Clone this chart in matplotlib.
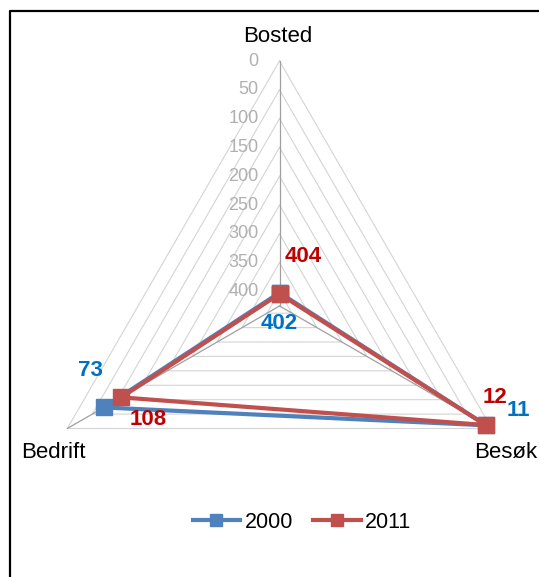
import numpy as np
import matplotlib
matplotlib.use("Agg")
import matplotlib.pyplot as plt
from matplotlib.lines import Line2D

plt.rcParams['font.family'] = ['Liberation Sans', 'DejaVu Sans']

categories = ["Bosted", "Besøk", "Bedrift"]
series_names = ["2000", "2011"]
values_2000 = [402, 11, 73]
values_2011 = [404, 12, 108]
tick_values = [0, 50, 100, 150, 200, 250, 300, 350, 400]
RMAX = 425

W, H = 539, 577
fig = plt.figure(figsize=(W / 100, H / 100), dpi=100)

cx, cy, R = 279.5, 306.0, 245.0
ax = fig.add_axes([(cx - R) / W, (H - cy - R) / H, 2 * R / W, 2 * R / H],
                  projection='polar')
ax.set_theta_zero_location('N')
ax.set_theta_direction(-1)
ax.set_ylim(RMAX, 0)
ax.grid(False)
ax.set_xticks([])
ax.set_yticks([])
ax.spines['polar'].set_visible(False)
ax.patch.set_visible(False)

angles = np.deg2rad([0, 120, 240])
closed = np.append(angles, angles[0])

# triangular gridlines
for t in tick_values:
    ax.plot(closed, [t] * 4, color='#d4d4d4', lw=0.8, zorder=1, clip_on=False)
# spokes
for a in angles:
    ax.plot([a, a], [RMAX, 0], color='#a0a0a0', lw=0.9, zorder=1.5, clip_on=False)

# tick labels
for t in tick_values:
    ax.annotate(str(t), xy=(0, t), xytext=(-21, 0), textcoords='offset pixels',
                ha='right', va='center', fontsize=13, color='#b0b0b0')

colors = ['#4f81bd', '#c0504d']
label_colors = ['#0070c0', '#c00000']
for vals, name, c in zip([values_2000, values_2011], series_names, colors):
    ax.plot(closed, vals + [vals[0]], color=c, lw=3, marker='s', markersize=11,
            label=name, zorder=3, clip_on=False)

# data labels (offsets in pixels)
offs_2000 = [(0, -31), (32, 15), (-13, 37)]
offs_2011 = [(24, 37), (9, 28), (27, -22)]
for vals, offs, lc in [(values_2000, offs_2000, label_colors[0]),
                       (values_2011, offs_2011, label_colors[1])]:
    for a, v, o in zip(angles, vals, offs):
        ax.annotate(str(v), xy=(a, v), xytext=o, textcoords='offset pixels',
                    ha='center', va='center', fontsize=16, fontweight='bold',
                    color=lc, zorder=5)

# category labels
cat_pos = [(278, 36), (506, 452), (53.5, 452)]
for name, (px, py) in zip(categories, cat_pos):
    fig.text(px / W, (H - py) / H, name, ha='center', va='center',
             fontsize=16, color='#000000')

# legend
handles = [Line2D([0], [0], color=c, lw=3, marker='s', markersize=9) for c in colors]
fig.legend(handles, series_names, loc='center', bbox_to_anchor=(302 / W, (H - 522) / H),
           ncol=2, frameon=False, fontsize=15.5, handlelength=2.2, handletextpad=0.2,
           columnspacing=0.95)

# border
fig.add_artist(Line2D([10 / W, 10 / W, 1.0], [0.0, 1 - 10.5 / H, 1 - 10.5 / H],
                      transform=fig.transFigure, color='#000000', lw=1.6))

fig.savefig('out.png', dpi=100)
